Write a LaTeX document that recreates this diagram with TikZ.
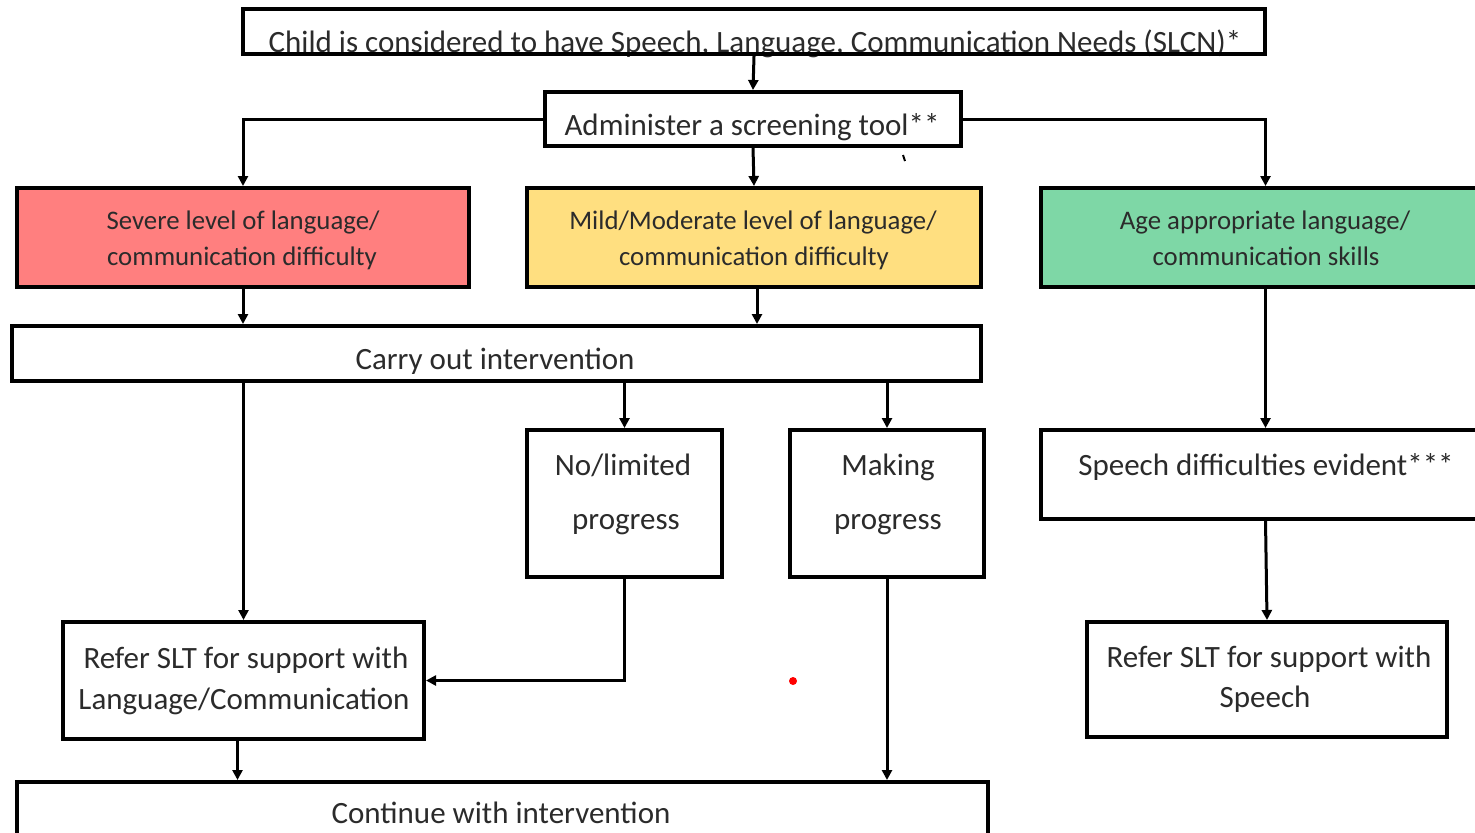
\documentclass[tikz,border=0pt]{standalone}
\usepackage{fontspec}
\setmainfont{Carlito}
\usetikzlibrary{arrows.meta}
\definecolor{textgray}{HTML}{2B2B2B}
\definecolor{sevred}{HTML}{FF7F7F}
\definecolor{modyel}{HTML}{FFDF80}
\definecolor{agegrn}{HTML}{7ED7A6}
\begin{document}
\begin{tikzpicture}[x=0.5pt,y=-0.5pt,
 box/.style={draw=black, line width=2pt, rectangle, inner sep=0pt},
 txt/.style={anchor=mid, inner sep=0pt, text=textgray, font=\fontsize{15.5}{17}\selectfont},
 stxt/.style={txt, font=\fontsize{13.4}{15}\selectfont},
 arr/.style={-{Triangle[length=5pt,width=5pt]}, line width=1.5pt},
]
\clip (0,0) rectangle (1475,832);
\fill[white] (0,0) rectangle (1475,832);

% top box (text under the border)
\node[txt] (ttop) at (755,48) {Child is considered to have Speech, Language, Communication Needs (SLCN)*};
\node[box, minimum width=511pt, minimum height=22.5pt] (top) at (754,31.5) {};

\node[box, minimum width=208pt, minimum height=27pt] (admin) at (753,119) {};
\node[txt] at (752,131) {Administer a screening tool**};

\node[box, fill=sevred, minimum width=226pt, minimum height=49.5pt] (red) at (243,237.5) {};
\node[stxt] at (243,225) {Severe level of language/};
\node[stxt] at (242,261) {communication difficulty};

\node[box, fill=modyel, minimum width=227pt, minimum height=49.5pt] (yel) at (754,237.5) {};
\node[stxt] at (753,225) {Mild/Moderate level of language/};
\node[stxt] at (754,261) {communication difficulty};

\node[box, fill=agegrn, minimum width=224.5pt, minimum height=49.5pt] (grn) at (1265.5,237.5) {};
\node[stxt] at (1265,225) {Age appropriate language/};
\node[stxt] at (1266,261) {communication skills};

\node[box, minimum width=484.5pt, minimum height=27.5pt] (carry) at (496.5,353.5) {};
\node[txt] at (495,365) {Carry out intervention};

\node[box, minimum width=97.5pt, minimum height=73.5pt] (nolim) at (624.5,503.5) {};
\node[txt] at (623,471) {No/limited};
\node[txt] at (626,525) {progress};

\node[box, minimum width=97pt, minimum height=73.5pt] (making) at (887,503.5) {};
\node[txt] at (888,471) {Making};
\node[txt] at (888,525) {progress};

\node[box, minimum width=224.5pt, minimum height=44.5pt] (speech) at (1265.5,474.5) {};
\node[txt] at (1266,471) {Speech difficulties evident***};

\node[box, minimum width=180.5pt, minimum height=58.5pt] (referL) at (243.5,680.5) {};
\node[txt] at (246,664) {Refer SLT for support with};
\node[txt] at (244,705) {Language/Communication};

\node[box, minimum width=180pt, minimum height=57.5pt] (referS) at (1267,679.5) {};
\node[txt] at (1269,663) {Refer SLT for support with};
\node[txt] at (1265,703) {Speech};

\node[box, minimum width=485.5pt, minimum height=39pt] (cont) at (502.5,821) {};
\node[txt] at (501,819) {Continue with intervention};

% connectors
\draw[arr] (top.south) -- (admin.north);
\draw[arr] (admin.west) -| (red.north);
\draw[arr] (admin.east) -| (grn.north);
\draw[arr] (admin.south) -- (yel.north);
\draw[arr] (red.south) -- (red.south |- carry.north);
\draw[arr] ([xshift=1.5pt]yel.south) -- ([xshift=1.5pt]yel.south |- carry.north);
\draw[arr] (carry.south -| referL.north) -- (referL.north);
\draw[arr] (carry.south -| nolim.north) -- (nolim.north);
\draw[arr] (carry.south -| making.north) -- (making.north);
\draw[arr] (nolim.south) |- (referL.east);
\draw[arr] (making.south) -- (making.south |- cont.north);
\draw[arr] ([xshift=-3pt]referL.south) -- ([xshift=-3pt]referL.south |- cont.north);
\draw[arr] (grn.south) -- (speech.north);
\draw[arr] (speech.south) -- (referS.north);

% stray marks
\draw[line width=1pt] (903,155) -- (905,161);
\fill[red] (793,681) circle (2pt);
\end{tikzpicture}
\end{document}
